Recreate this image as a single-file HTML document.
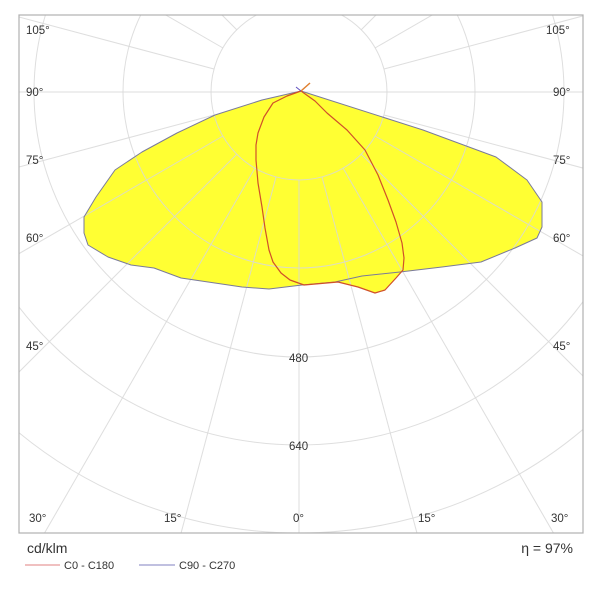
<!DOCTYPE html>
<html><head><meta charset="utf-8"><style>
html,body{margin:0;padding:0;background:#fff;width:600px;height:600px;overflow:hidden;}
svg{display:block;font-family:"Liberation Sans","DejaVu Sans",sans-serif;}
</style></head><body>
<svg width="600" height="600" viewBox="0 0 600 600" xmlns="http://www.w3.org/2000/svg">
<defs><clipPath id="c"><rect x="19" y="15" width="564" height="518"/></clipPath></defs>
<rect width="600" height="600" fill="#fff"/>
<g clip-path="url(#c)">
<polygon fill="#ffff33" stroke="none" points="301,91 423,130 496,157 527,180 542,202 542,227 537,238 515,248 481,262 442,267 400,272 362,276 335,282 302,285 269,289 242,287 181,278 154,268 131,265 108,257 88,245 84,233 84,217 96,197 115,170 142,152 177,133 215,115 262,100"/>
<polygon fill="#ffff33" stroke="none" points="301,91 327,113 365,150 388,200 402,243 403,270 396,278 385,290 375,293 358,287 338,282 304,285 281,273 269,250 262,207 256,160 258,133 273,103"/>
<g stroke="#d8d8d8" stroke-opacity="0.85" stroke-width="1" fill="none">
<circle cx="299" cy="92" r="88"/>
<circle cx="299" cy="92" r="176"/>
<circle cx="299" cy="92" r="265"/>
<circle cx="299" cy="92" r="353"/>
<circle cx="299" cy="92" r="441"/>
<circle cx="299" cy="92" r="529"/>
<line x1="0" y1="92" x2="600" y2="92"/>
<line x1="299" y1="180" x2="299" y2="600"/>
<line x1="322" y1="177" x2="454" y2="672"/><line x1="276" y1="177" x2="144" y2="672"/>
<line x1="343" y1="168" x2="599" y2="612"/><line x1="255" y1="168" x2="-1" y2="612"/>
<line x1="361" y1="154" x2="723" y2="516"/><line x1="237" y1="154" x2="-125" y2="516"/>
<line x1="375" y1="136" x2="819" y2="392"/><line x1="223" y1="136" x2="-221" y2="392"/>
<line x1="384" y1="115" x2="879" y2="247"/><line x1="214" y1="115" x2="-281" y2="247"/>
<line x1="384" y1="69" x2="879" y2="-63"/><line x1="214" y1="69" x2="-281" y2="-63"/>
<line x1="375" y1="48" x2="819" y2="-208"/><line x1="223" y1="48" x2="-221" y2="-208"/>
<line x1="361" y1="30" x2="723" y2="-332"/><line x1="237" y1="30" x2="-125" y2="-332"/>
</g>
<polygon fill="none" stroke="#7a7a9a" stroke-width="1" stroke-linejoin="round" points="301,91 423,130 496,157 527,180 542,202 542,227 537,238 515,248 481,262 442,267 400,272 362,276 335,282 302,285 269,289 242,287 181,278 154,268 131,265 108,257 88,245 84,233 84,217 96,197 115,170 142,152 177,133 215,115 262,100"/>
<polygon fill="none" stroke="#d0502a" stroke-width="1.2" stroke-linejoin="round" points="301,91 315,101 327,113 347,130 365,150 378,175 388,200 396,222 402,243 404,258 403,270 396,278 385,290 375,293 358,287 338,282 304,285 290,280 281,273 273,262 269,250 265,228 262,207 258,183 256,160 256,145 258,133 264,117 273,103 287,96"/>
<line x1="301" y1="91" x2="310" y2="83" stroke="#e08030" stroke-width="1.5"/>
<line x1="301" y1="91" x2="296" y2="87" stroke="#6050c0" stroke-width="1"/>
</g>
<rect x="19" y="15" width="564" height="518" fill="none" stroke="#b0b0b0" stroke-width="1.2"/>
<g font-size="11.5" fill="#333">
<text x="26" y="34">105°</text><text x="546" y="34">105°</text>
<text x="26" y="96">90°</text><text x="553" y="96">90°</text>
<text x="26" y="164">75°</text><text x="553" y="164">75°</text>
<text x="26" y="242">60°</text><text x="553" y="242">60°</text>
<text x="26" y="350">45°</text><text x="553" y="350">45°</text>
<text x="29" y="522">30°</text><text x="551" y="522">30°</text>
<text x="164" y="522">15°</text><text x="418" y="522">15°</text>
<text x="293" y="522">0°</text>
<text x="289" y="362">480</text><text x="289" y="450">640</text>
</g>
<text x="27" y="553" font-size="14" fill="#333">cd/klm</text>
<text x="573" y="553" font-size="14" fill="#333" text-anchor="end">η = 97%</text>
<line x1="25" y1="565" x2="60" y2="565" stroke="#e08080" stroke-width="1"/>
<text x="64" y="569" font-size="11" fill="#333">C0 - C180</text>
<line x1="139" y1="565" x2="175" y2="565" stroke="#8080c0" stroke-width="1"/>
<text x="179" y="569" font-size="11" fill="#333">C90 - C270</text>
</svg>
</body></html>
